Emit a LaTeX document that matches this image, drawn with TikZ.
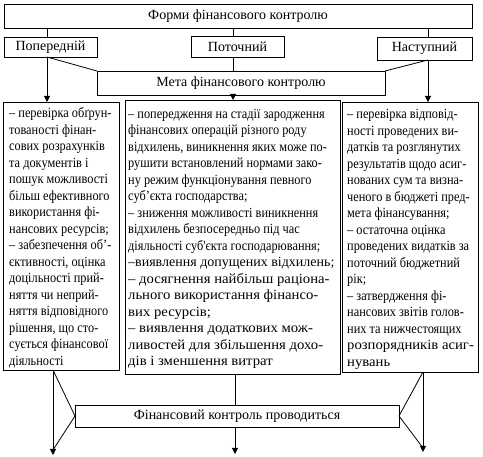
\documentclass[tikz,border=0pt]{standalone}
\usepackage{fontspec}
\setmainfont{Liberation Serif}
\newfontfamily\condfont[FakeStretch=0.88]{Liberation Serif}
\newfontfamily\widefont[FakeStretch=1.05]{Liberation Serif}
\usetikzlibrary{arrows.meta}
\begin{document}
\begin{tikzpicture}[x=1pt,y=-1pt,
  box/.style={draw, line width=0.8pt, inner sep=0pt, outer sep=0pt, font=\fontsize{14}{16.5}\selectfont},
  cnd/.style={anchor=base west, inner sep=0pt, font=\condfont\fontsize{14}{16.5}\selectfont},
  nrm/.style={anchor=base west, inner sep=0pt, font=\fontsize{14}{16.5}\selectfont},
  wde/.style={anchor=base west, inner sep=0pt, font=\widefont\fontsize{14}{16.5}\selectfont},
  conn/.style={line width=0.8pt},
  arr/.style={line width=1pt, -{Triangle[length=6pt,width=6pt]}}]
\useasboundingbox (0,0) rectangle (483,457);
\node[box, minimum width=468, minimum height=24] (top) at (238,16) {Форми фінансового контролю};
\node[box, minimum width=93, minimum height=20] (pop) at (50.5,47) {Попередній};
\node[box, minimum width=93, minimum height=21] (pot) at (237.5,46.5) {Поточний};
\node[box, minimum width=95, minimum height=23] (nas) at (424.5,48.5) {Наступний};
\node[box, minimum width=288, minimum height=24] (meta) at (241,83) {Мета фінансового контролю};
\node[box, minimum width=116, minimum height=268] (lb) at (61,236) {};
\node[box, minimum width=215, minimum height=274] (mb) at (232.5,237) {};
\node[box, minimum width=136, minimum height=270] (rb) at (410,237) {};
\node[box, minimum width=324, minimum height=22] (bot) at (237,416) {Фінансовий контроль проводиться};

\foreach \s/\t [count=\i] in {
  cnd/{– перевірка обґрун-}, cnd/{тованості фінан-}, cnd/{сових розрахунків},
  cnd/{та документів і}, cnd/{пошук можливості}, cnd/{більш ефективного},
  cnd/{використання фі-}, cnd/{нансових ресурсів;}, cnd/{– забезпечення об’-},
  cnd/{єктивності, оцінка}, cnd/{доцільності прий-}, cnd/{няття чи неприй-},
  cnd/{няття відповідного}, cnd/{рішення, що сто-}, cnd/{сується фінансової},
  cnd/{діяльності}}
  \node[\s] (lt\i) at (9,{118+(\i-1)*16.5}) {\t};

\foreach \s/\t [count=\i] in {
  cnd/{– попередження на стадії зародження}, cnd/{фінансових операцій різного роду},
  cnd/{відхилень, виникнення яких може по-}, cnd/{рушити встановлений нормами зако-},
  cnd/{ну режим функціонування певного}, cnd/{суб’єкта господарства;},
  cnd/{– зниження можливості виникнення}, cnd/{відхилень безпосередньо під час},
  cnd/{діяльності суб'єкта господарювання;}, nrm/{–виявлення допущених відхилень;},
  wde/{– досягнення найбільш раціона-}, wde/{льного використання фінансо-},
  wde/{вих ресурсів;}, wde/{– виявлення додаткових мож-},
  wde/{ливостей для збільшення дохо-}, wde/{дів і зменшення витрат}}
  \node[\s] (mt\i) at (128,{118.5+(\i-1)*16.5}) {\t};

\foreach \s/\t [count=\i] in {
  cnd/{– перевірка відповід-}, cnd/{ності проведених ви-}, cnd/{датків та розглянутих},
  cnd/{результатів щодо асиг-}, cnd/{нованих сум та визна-}, cnd/{ченого в бюджеті пред-},
  cnd/{мета фінансування;}, cnd/{– остаточна оцінка}, cnd/{проведених видатків за},
  cnd/{поточний бюджетний}, cnd/{рік;}, cnd/{– затвердження фі-},
  cnd/{нансових звітів голов-}, cnd/{них та нижчестоящих}, wde/{розпорядників асиг-},
  wde/{нувань}}
  \node[\s] (rt\i) at (347,{119+(\i-1)*16.5}) {\t};

\coordinate (xl) at (47,0);
\coordinate (xm) at (233,0);
\coordinate (xr) at (428,0);
\coordinate (xlb) at (53,0);
\coordinate (xmb) at (235,0);
\coordinate (xrb) at (423,0);
\coordinate (lend) at (53,455);
\coordinate (mend) at (235,454);
\coordinate (rend) at (423,452);
\coordinate (lj) at (53,450);
\coordinate (rj) at (423,448);

\draw[conn] (top.south -| xl) -- (pop.north -| xl);
\draw[conn] (top.south -| xm) -- (pot.north -| xm);
\draw[conn] (top.south -| xr) -- (nas.north -| xr);
\draw[conn] (pot.south -| xm) -- (meta.north -| xm);
\draw[conn] (pop.south -| xl) -- (meta.north west);
\draw[conn] (nas.south -| xr) -- (meta.north east);
\draw[arr] (pop.south -| xl) -- (lb.north -| xl);
\draw[arr] (meta.south -| xm) -- (mb.north -| xm);
\draw[arr] (nas.south -| xr) -- (rb.north -| xr);
\draw[arr] (lb.south -| xlb) -- (lend);
\draw[conn] (lb.south -| xlb) -- (bot.west) -- (lj);
\draw[conn] (mb.south -| xmb) -- (bot.north -| xmb);
\draw[arr] (bot.south -| xmb) -- (mend);
\draw[arr] (rb.south -| xrb) -- (rend);
\draw[conn] (rb.south -| xrb) -- (bot.east) -- (rj);
\end{tikzpicture}
\end{document}
